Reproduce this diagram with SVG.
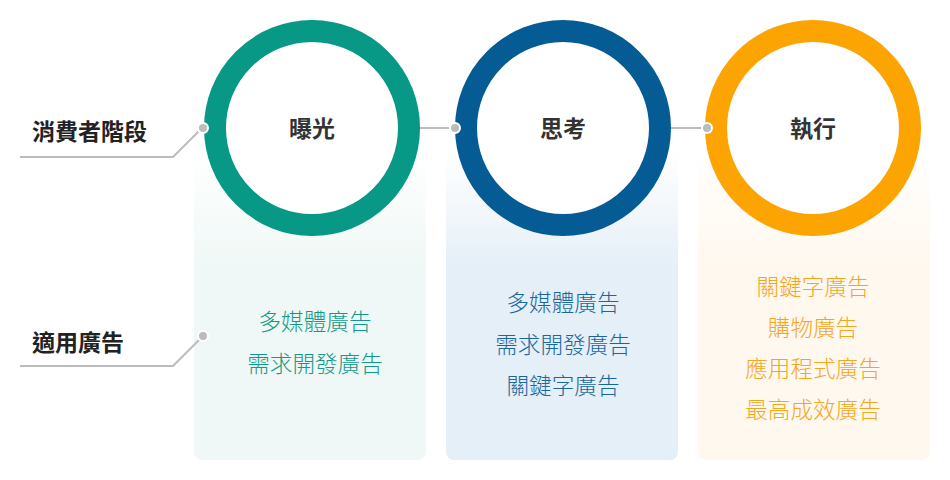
<svg xmlns="http://www.w3.org/2000/svg" width="950" height="480" viewBox="0 0 950 480">
<style>
.lbl{font-family:"Noto Sans CJK TC","Noto Sans CJK SC",sans-serif;font-size:23px;font-weight:bold;fill:#222}
.title{font-family:"Noto Sans CJK TC","Noto Sans CJK SC",sans-serif;font-size:23px;font-weight:bold;fill:#333;text-anchor:middle}
.item{font-family:"Noto Sans CJK TC","Noto Sans CJK SC",sans-serif;font-size:22.6px;font-weight:300;text-anchor:middle}
.conn{stroke:#bcbcbc;stroke-width:2;fill:none}
.dot{fill:#bcbcbc;stroke:#fff;stroke-width:2}
</style>
<defs>
<linearGradient id="gG" gradientUnits="userSpaceOnUse" x1="0" y1="150" x2="0" y2="270">
<stop offset="0" stop-color="#eff8f6" stop-opacity="0"/><stop offset="1" stop-color="#eff8f6"/>
</linearGradient>
<linearGradient id="gB" gradientUnits="userSpaceOnUse" x1="0" y1="150" x2="0" y2="270">
<stop offset="0" stop-color="#e5eff7" stop-opacity="0"/><stop offset="1" stop-color="#e5eff7"/>
</linearGradient>
<linearGradient id="gO" gradientUnits="userSpaceOnUse" x1="0" y1="150" x2="0" y2="270">
<stop offset="0" stop-color="#fff8ee" stop-opacity="0"/><stop offset="1" stop-color="#fff8ee"/>
</linearGradient>
</defs>
<rect width="950" height="480" fill="#fff"/>

<g id="label-stage">
<text class="lbl" x="32" y="140">消費者階段</text>
</g>
<g id="label-ads">
<text class="lbl" x="32" y="351">適用廣告</text>
</g>

<g id="node-exposure">
<rect x="194" y="130" width="232" height="330" rx="8" fill="url(#gG)"/>
<circle cx="312" cy="128" r="97" fill="#fff" stroke="#079886" stroke-width="22"/>
<text class="title" x="312" y="137">曝光</text>
<g class="item" fill="#129a88">
<text x="315" y="330">多媒體廣告</text>
<text x="315" y="372">需求開發廣告</text>
</g>
</g>

<g id="node-think">
<rect x="446" y="130" width="232" height="330" rx="8" fill="url(#gB)"/>
<circle cx="563" cy="128" r="97" fill="#fff" stroke="#055c95" stroke-width="22"/>
<text class="title" x="563" y="137">思考</text>
<g class="item" fill="#1b679c">
<text x="563" y="311">多媒體廣告</text>
<text x="563" y="353">需求開發廣告</text>
<text x="563" y="394">關鍵字廣告</text>
</g>
</g>

<g id="node-action">
<rect x="698" y="130" width="232" height="330" rx="8" fill="url(#gO)"/>
<circle cx="813" cy="128" r="97" fill="#fff" stroke="#fca402" stroke-width="22"/>
<text class="title" x="813" y="137">執行</text>
<g class="item" fill="#f6a51e">
<text x="813" y="295">關鍵字廣告</text>
<text x="813" y="336">購物廣告</text>
<text x="813" y="377">應用程式廣告</text>
<text x="813" y="418">最高成效廣告</text>
</g>
</g>

<g id="connectors">
<polyline class="conn" points="20,157 173,157 202,128"/>
<polyline class="conn" points="20,366 173,366 202,337"/>
<line class="conn" x1="420" y1="128" x2="455" y2="128"/>
<line class="conn" x1="671" y1="128" x2="707" y2="128"/>
<circle class="dot" cx="203" cy="128" r="5"/>
<circle class="dot" cx="203" cy="336" r="5"/>
<circle class="dot" cx="455" cy="128" r="5"/>
<circle class="dot" cx="707" cy="128" r="5"/>
</g>
</svg>
